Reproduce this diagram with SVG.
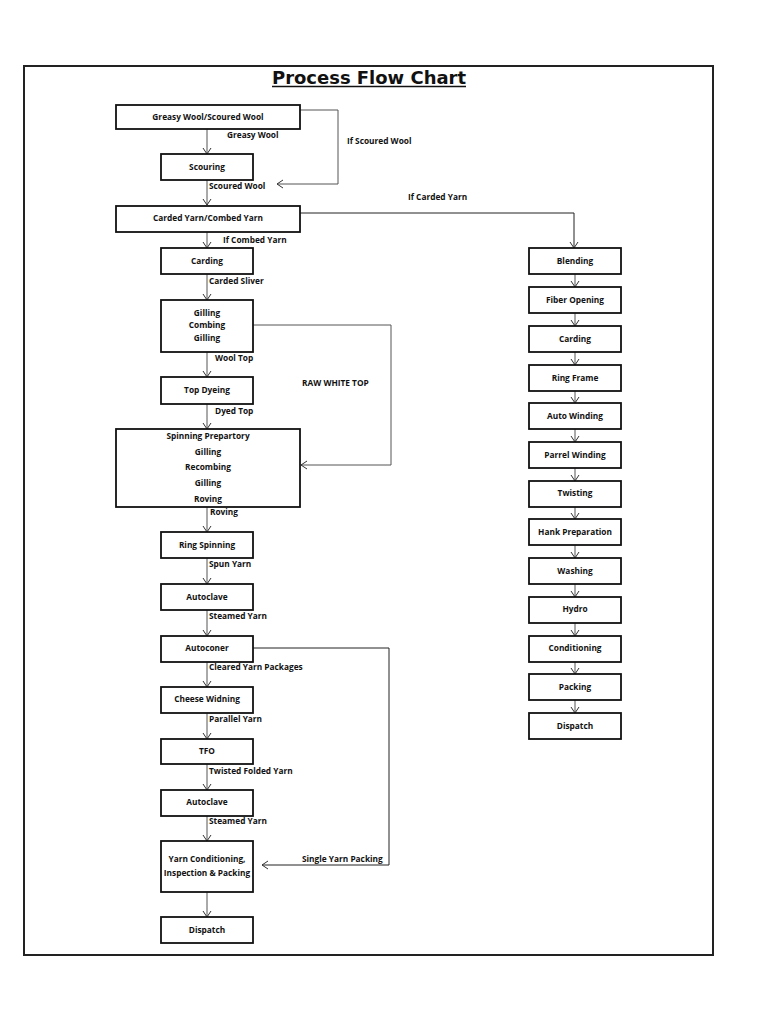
<svg xmlns="http://www.w3.org/2000/svg" width="768" height="1024" viewBox="0 0 768 1024">
<style>
.bx{fill:#fff;stroke:#111;stroke-width:1.8}
.t{font-family:"Open Sans","Liberation Sans",sans-serif;font-weight:bold;font-size:8.3px;fill:#111;text-anchor:middle}
.l{font-family:"Open Sans","Liberation Sans",sans-serif;font-weight:bold;font-size:8.3px;fill:#111}
.c{fill:none;stroke:#555;stroke-width:1}
.k{fill:none;stroke:#222;stroke-width:1}
</style>
<defs>
<marker id="ah" markerWidth="10" markerHeight="10" refX="8" refY="5" orient="auto" markerUnits="userSpaceOnUse">
<path d="M2,1 L8,5 L2,9" fill="none" stroke="#333" stroke-width="1"/>
</marker>
</defs>
<rect width="768" height="1024" fill="#fff"/>
<rect x="24" y="66" width="689" height="889" fill="none" stroke="#222" stroke-width="2"/>
<text x="369" y="84" font-family="DejaVu Sans,sans-serif" font-weight="bold" font-size="17" text-anchor="middle" textLength="194" lengthAdjust="spacingAndGlyphs" fill="#111">Process Flow Chart</text>
<line x1="272" y1="86.5" x2="466" y2="86.5" stroke="#111" stroke-width="1.3"/>

<g id="connectors">
<line class="c" x1="207" y1="129" x2="207" y2="154" marker-end="url(#ah)"/>
<polyline class="c" points="300,110 338,110 338,184 277,184" marker-end="url(#ah)"/>
<line class="c" x1="207" y1="180" x2="207" y2="205" marker-end="url(#ah)"/>
<polyline class="k" points="300,213 574,213 574,248" marker-end="url(#ah)"/>
<line class="c" x1="207" y1="232" x2="207" y2="248" marker-end="url(#ah)"/>
<line class="c" x1="207" y1="274" x2="207" y2="300" marker-end="url(#ah)"/>
<polyline class="c" points="253,325 391,325 391,465 301,465" marker-end="url(#ah)"/>
<line class="c" x1="207" y1="352" x2="207" y2="377" marker-end="url(#ah)"/>
<line class="c" x1="207" y1="404" x2="207" y2="429" marker-end="url(#ah)"/>
<line class="c" x1="207" y1="507" x2="207" y2="532" marker-end="url(#ah)"/>
<line class="c" x1="207" y1="558" x2="207" y2="584" marker-end="url(#ah)"/>
<line class="c" x1="207" y1="610" x2="207" y2="636" marker-end="url(#ah)"/>
<polyline class="k" points="253,648 389,648 389,865 262,865" marker-end="url(#ah)"/>
<line class="c" x1="207" y1="662" x2="207" y2="687" marker-end="url(#ah)"/>
<line class="c" x1="207" y1="713" x2="207" y2="739" marker-end="url(#ah)"/>
<line class="c" x1="207" y1="764" x2="207" y2="790" marker-end="url(#ah)"/>
<line class="c" x1="207" y1="816" x2="207" y2="841" marker-end="url(#ah)"/>
<line class="c" x1="207" y1="892" x2="207" y2="917" marker-end="url(#ah)"/>
<line class="c" x1="575" y1="274" x2="575" y2="287" marker-end="url(#ah)"/>
<line class="c" x1="575" y1="313" x2="575" y2="326" marker-end="url(#ah)"/>
<line class="c" x1="575" y1="352" x2="575" y2="365" marker-end="url(#ah)"/>
<line class="c" x1="575" y1="391" x2="575" y2="403" marker-end="url(#ah)"/>
<line class="c" x1="575" y1="429" x2="575" y2="442" marker-end="url(#ah)"/>
<line class="c" x1="575" y1="468" x2="575" y2="481" marker-end="url(#ah)"/>
<line class="c" x1="575" y1="507" x2="575" y2="519" marker-end="url(#ah)"/>
<line class="c" x1="575" y1="545" x2="575" y2="558" marker-end="url(#ah)"/>
<line class="c" x1="575" y1="584" x2="575" y2="597" marker-end="url(#ah)"/>
<line class="c" x1="575" y1="623" x2="575" y2="636" marker-end="url(#ah)"/>
<line class="c" x1="575" y1="661" x2="575" y2="674" marker-end="url(#ah)"/>
<line class="c" x1="575" y1="700" x2="575" y2="713" marker-end="url(#ah)"/>
<text class="l" x="227" y="138">Greasy Wool</text>
<text class="l" x="347" y="144">If Scoured Wool</text>
<text class="l" x="209" y="188.5">Scoured Wool</text>
<text class="l" x="408" y="200">If Carded Yarn</text>
<text class="l" x="223" y="243">If Combed Yarn</text>
<text class="l" x="209" y="284">Carded Sliver</text>
<text class="l" x="215" y="361">Wool Top</text>
<text class="l" x="302" y="386">RAW WHITE TOP</text>
<text class="l" x="215" y="413.5">Dyed Top</text>
<text class="l" x="210" y="514.5">Roving</text>
<text class="l" x="209" y="567">Spun Yarn</text>
<text class="l" x="209" y="618.5">Steamed Yarn</text>
<text class="l" x="209" y="670">Cleared Yarn Packages</text>
<text class="l" x="209" y="722">Parallel Yarn</text>
<text class="l" x="209" y="774">Twisted Folded Yarn</text>
<text class="l" x="209" y="824">Steamed Yarn</text>
<text class="l" x="302" y="862">Single Yarn Packing</text>
</g>

<g id="n-greasy"><rect class="bx" x="116" y="105" width="184" height="24"/><text class="t" x="208" y="120">Greasy Wool/Scoured Wool</text></g>
<g id="n-scouring"><rect class="bx" x="161" y="154" width="92" height="26"/><text class="t" x="207" y="170">Scouring</text></g>
<g id="n-cardedcombed"><rect class="bx" x="116" y="206" width="184" height="26"/><text class="t" x="208" y="221">Carded Yarn/Combed Yarn</text></g>
<g id="n-carding"><rect class="bx" x="161" y="248" width="92" height="26"/><text class="t" x="207" y="264">Carding</text></g>
<g id="n-gilling"><rect class="bx" x="161" y="300" width="92" height="52"/><text class="t" x="207" y="315.5">Gilling</text><text class="t" x="207" y="328">Combing</text><text class="t" x="207" y="341">Gilling</text></g>
<g id="n-topdyeing"><rect class="bx" x="161" y="377" width="92" height="27"/><text class="t" x="207" y="393">Top Dyeing</text></g>
<g id="n-spinprep"><rect class="bx" x="116" y="429" width="184" height="78"/><text class="t" x="208" y="438.5">Spinning Prepartory</text><text class="t" x="208" y="454.5">Gilling</text><text class="t" x="208" y="470">Recombing</text><text class="t" x="208" y="486">Gilling</text><text class="t" x="208" y="502">Roving</text></g>
<g id="n-ringspin"><rect class="bx" x="161" y="532" width="92" height="26"/><text class="t" x="207" y="548">Ring Spinning</text></g>
<g id="n-autoclave1"><rect class="bx" x="161" y="584" width="92" height="26"/><text class="t" x="207" y="600">Autoclave</text></g>
<g id="n-autoconer"><rect class="bx" x="161" y="636" width="92" height="26"/><text class="t" x="207" y="651">Autoconer</text></g>
<g id="n-cheese"><rect class="bx" x="161" y="687" width="92" height="26"/><text class="t" x="207" y="702">Cheese Widning</text></g>
<g id="n-tfo"><rect class="bx" x="161" y="739" width="92" height="25"/><text class="t" x="207" y="754">TFO</text></g>
<g id="n-autoclave2"><rect class="bx" x="161" y="790" width="92" height="26"/><text class="t" x="207" y="805">Autoclave</text></g>
<g id="n-yarncond"><rect class="bx" x="161" y="841" width="92" height="51"/><text class="t" x="207" y="862">Yarn Conditioning,</text><text class="t" x="207" y="875.5">Inspection &amp; Packing</text></g>
<g id="n-dispatch1"><rect class="bx" x="161" y="917" width="92" height="26"/><text class="t" x="207" y="933">Dispatch</text></g>

<g id="n-blending"><rect class="bx" x="529" y="248" width="92" height="26"/><text class="t" x="575" y="264">Blending</text></g>
<g id="n-fiberopening"><rect class="bx" x="529" y="287" width="92" height="26"/><text class="t" x="575" y="303">Fiber Opening</text></g>
<g id="n-carding2"><rect class="bx" x="529" y="326" width="92" height="26"/><text class="t" x="575" y="342">Carding</text></g>
<g id="n-ringframe"><rect class="bx" x="529" y="365" width="92" height="26"/><text class="t" x="575" y="381">Ring Frame</text></g>
<g id="n-autowinding"><rect class="bx" x="529" y="403" width="92" height="26"/><text class="t" x="575" y="419">Auto Winding</text></g>
<g id="n-parrel"><rect class="bx" x="529" y="442" width="92" height="26"/><text class="t" x="575" y="458">Parrel Winding</text></g>
<g id="n-twisting"><rect class="bx" x="529" y="481" width="92" height="26"/><text class="t" x="575" y="496">Twisting</text></g>
<g id="n-hank"><rect class="bx" x="529" y="519" width="92" height="26"/><text class="t" x="575" y="535">Hank Preparation</text></g>
<g id="n-washing"><rect class="bx" x="529" y="558" width="92" height="26"/><text class="t" x="575" y="574">Washing</text></g>
<g id="n-hydro"><rect class="bx" x="529" y="597" width="92" height="26"/><text class="t" x="575" y="612">Hydro</text></g>
<g id="n-conditioning"><rect class="bx" x="529" y="636" width="92" height="26"/><text class="t" x="575" y="651">Conditioning</text></g>
<g id="n-packing"><rect class="bx" x="529" y="674" width="92" height="26"/><text class="t" x="575" y="690">Packing</text></g>
<g id="n-dispatch2"><rect class="bx" x="529" y="713" width="92" height="26"/><text class="t" x="575" y="729">Dispatch</text></g>
</svg>
